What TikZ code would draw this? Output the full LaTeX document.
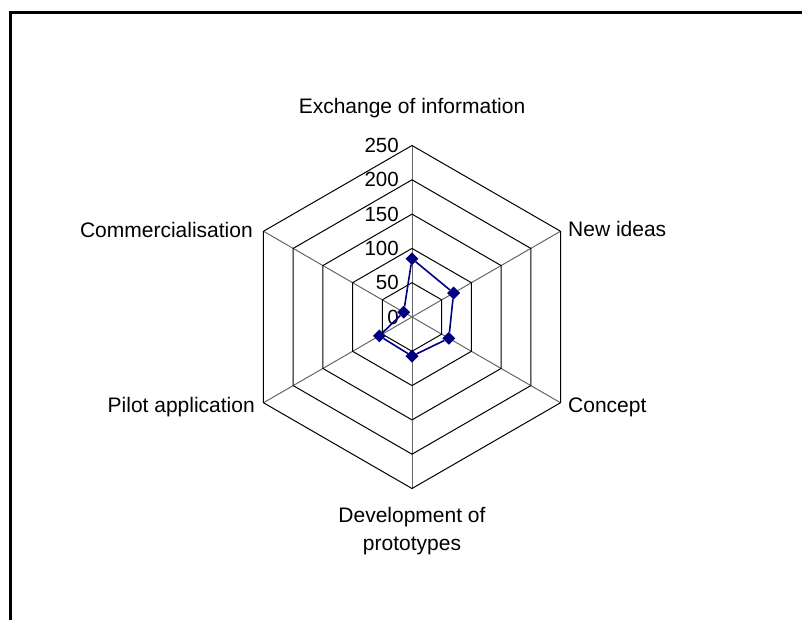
\documentclass[tikz,border=0pt]{standalone}
\usepackage{fontspec}
\setmainfont{Liberation Sans}
\usetikzlibrary{shapes.geometric}
\definecolor{navy}{RGB}{0,0,128}

\begin{document}
\begin{tikzpicture}[x=1pt,y=1pt,
  ring/.style={draw=black,line width=1pt},
  spoke/.style={draw=black!60,line width=1pt},
  frame/.style={draw=black,line width=3pt},
  datapt/.style={diamond,fill=navy,inner sep=0pt,minimum size=13pt},
  dataline/.style={draw=navy,line width=1.6pt},
  ticklabel/.style={anchor=east,inner sep=0pt,font=\fontsize{20.5}{24}\selectfont},
  axislabel/.style={inner sep=0pt,font=\fontsize{21}{28}\selectfont}]
  \useasboundingbox (-412,-302) rectangle (390,317);
  \draw[frame] (-401,-320) -- (-401,304) -- (400,304);
  \foreach \a in {90,30,-30,-90,-150,150}
    \draw[spoke] (0,0) -- (\a:171.5);
  \foreach \v in {50,100,...,250}
    \draw[ring] (90:{\v*0.686}) -- (30:{\v*0.686}) -- (-30:{\v*0.686})
      -- (-90:{\v*0.686}) -- (-150:{\v*0.686}) -- (150:{\v*0.686}) -- cycle;
  \foreach \v in {0,50,...,250}
    \node[ticklabel] (tick-\v) at (-13,{\v*0.686}) {\v};
  \node[axislabel,anchor=base] (exch) at (0,204) {Exchange of information};
  \node[axislabel,anchor=base west] (ideas) at (156,81) {New ideas};
  \node[axislabel,anchor=base west] (concept) at (156,-95) {Concept};
  \node[axislabel,anchor=north,align=center] (devel) at (0,-190) {Development of\\prototypes};
  \node[axislabel,anchor=base east] (pilot) at (-157,-95) {Pilot application};
  \node[axislabel,anchor=base east] (comm) at (-159,80) {Commercialisation};
  \foreach \a/\v/\n in {90/85/exch,30/70/ideas,-30/62/concept,-90/57/devel,-150/55/pilot,150/14/comm}
    \node[datapt] (pt-\n) at (\a:{\v*0.686}) {};
  \draw[dataline] (pt-exch) -- (pt-ideas) -- (pt-concept) -- (pt-devel)
    -- (pt-pilot) -- (pt-comm) -- (pt-exch);
\end{tikzpicture}
\end{document}
